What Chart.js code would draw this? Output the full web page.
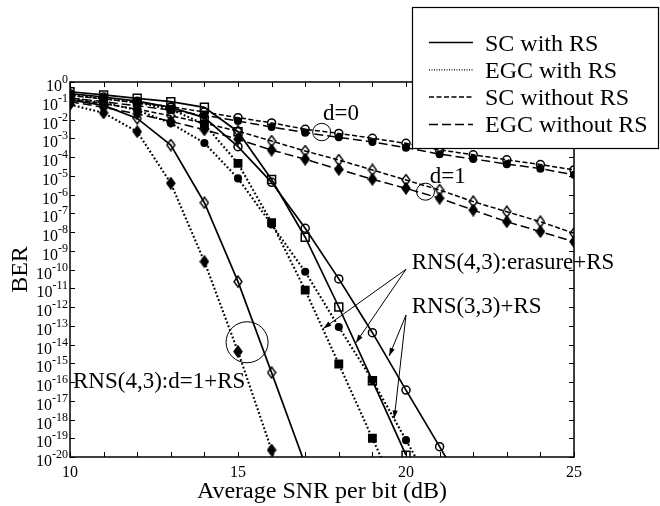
<!DOCTYPE html>
<html>
<head>
<meta charset="utf-8">
<script src="https://cdn.jsdelivr.net/npm/chart.js@4/dist/chart.umd.min.js"></script>
<style>
  html, body { margin: 0; padding: 0; background: #fff; }
  canvas { display: block; }
</style>
</head>
<body>
<canvas id="ber" width="660" height="506"></canvas>
<script>
// Average SNR per bit (dB) at which each curve is sampled
const snr = [10, 11, 12, 13, 14, 15, 16, 17, 18, 19, 20, 21, 22, 23, 24, 25];

// log10(BER) values, one per SNR point starting at 10 dB
// without RS coding, d = 0
const scNoRsD0  = [-0.72, -0.90, -1.10, -1.32, -1.60, -1.90, -2.18, -2.52, -2.74, -3.00, -3.27, -3.62, -3.88, -4.15, -4.40, -4.69];
const egcNoRsD0 = [-0.85, -1.05, -1.27, -1.50, -1.78, -2.08, -2.40, -2.70, -2.95, -3.20, -3.50, -3.85, -4.10, -4.38, -4.62, -4.95];
// without RS coding, d = 1
const scNoRsD1  = [-0.90, -1.15, -1.45, -1.80, -2.20, -2.62, -3.15, -3.68, -4.16, -4.69, -5.23, -5.76, -6.38, -6.92, -7.45, -8.07];
const egcNoRsD1 = [-1.05, -1.35, -1.70, -2.10, -2.55, -3.05, -3.63, -4.12, -4.66, -5.19, -5.67, -6.20, -6.83, -7.45, -7.98, -8.52];
// RNS(4,3): d=1 + RS
const scRns43D1  = [-0.95, -1.25, -1.94, -3.36, -6.44, -10.65, -15.50, -20.40];
const egcRns43D1 = [-1.20, -1.65, -2.65, -5.40, -9.58, -14.38, -19.63, -24.80];
// RNS(4,3): erasure + RS
const scRns43Erasure  = [-0.52, -0.69, -0.87, -1.05, -1.35, -2.65, -5.20, -8.28, -12.00, -15.93, -19.90];
const egcRns43Erasure = [-0.70, -0.88, -1.10, -1.45, -2.25, -4.34, -7.50, -11.10, -15.04, -19.00, -23.00];
// RNS(3,3) + RS
const scRns33  = [-0.62, -0.80, -1.02, -1.35, -1.90, -3.45, -5.35, -7.80, -10.50, -13.37, -16.43, -19.45, -22.50];
const egcRns33 = [-0.85, -1.10, -1.50, -2.20, -3.25, -5.14, -7.60, -10.12, -13.07, -15.90, -19.10, -22.30];

// axis ticks
const xTickValues = [10, 11, 12, 13, 14, 15, 16, 17, 18, 19, 20, 21, 22, 23, 24, 25];
const xTickLabels = [10, 15, 20, 25];
const yTickExponents = [0, -1, -2, -3, -4, -5, -6, -7, -8, -9, -10, -11, -12, -13, -14, -15, -16, -17, -18, -19, -20];

const legendLabels = ['SC with RS', 'EGC with RS', 'SC without RS', 'EGC without RS'];

const SERIF = '"Liberation Serif", "DejaVu Serif", serif';
const INK = '#000';

// line styles (SC with RS, EGC with RS, SC without RS, EGC without RS)
const lineStyles = {
  solid:  { dash: [],     width: 1.7 },
  dotted: { dash: [1.8, 2.2], width: 2.1 },
  short:  { dash: [5, 2.5], width: 1.5 },
  long:   { dash: [9, 4], width: 1.5 }
};

// tall diamond marker drawn onto a small canvas
function diamond(filled) {
  const c = document.createElement('canvas');
  c.width = 10; c.height = 13;
  const g = c.getContext('2d');
  g.beginPath();
  g.moveTo(5, 1); g.lineTo(9, 6.5); g.lineTo(5, 12); g.lineTo(1, 6.5); g.closePath();
  if (filled) { g.fillStyle = INK; g.fill(); }
  g.lineWidth = 1.4; g.strokeStyle = INK; g.stroke();
  return c;
}

const markers = {
  openCircle:    { style: 'circle', r: 4.0, fill: 'rgba(0,0,0,0)' },
  filledCircle:  { style: 'circle', r: 3.3, fill: INK },
  openSquare:    { style: 'rect',   r: 5.6, fill: 'rgba(0,0,0,0)' },
  filledSquare:  { style: 'rect',   r: 5.2, fill: INK },
  openDiamond:   { style: diamond(false), r: 5, fill: 'rgba(0,0,0,0)' },
  filledDiamond: { style: diamond(true),  r: 5, fill: INK }
};

function series(label, values, line, marker) {
  const ls = lineStyles[line];
  const m = markers[marker];
  return {
    label,
    data: values.map((v, i) => ({ x: snr[i], y: Math.pow(10, v) })),
    borderColor: INK,
    borderWidth: ls.width,
    borderDash: ls.dash,
    borderCapStyle: 'butt',
    tension: 0,
    fill: false,
    pointStyle: m.style,
    pointBackgroundColor: m.fill,
    pointBorderColor: INK,
    pointBorderWidth: 1.5,
    // samples that fall below the axis only steer the line to the border
    pointRadius: ctx => (ctx.raw && ctx.raw.y < 1e-20) ? 0 : m.r,
    pointHoverRadius: 0
  };
}

const datasets = [
  series('SC without RS, d=0',  scNoRsD0,  'short', 'openCircle'),
  series('EGC without RS, d=0', egcNoRsD0, 'long',  'filledCircle'),
  series('SC without RS, d=1',  scNoRsD1,  'short', 'openDiamond'),
  series('EGC without RS, d=1', egcNoRsD1, 'long',  'filledDiamond'),
  series('SC RNS(4,3):d=1+RS',  scRns43D1,  'solid',  'openDiamond'),
  series('EGC RNS(4,3):d=1+RS', egcRns43D1, 'dotted', 'filledDiamond'),
  series('SC RNS(4,3):erasure+RS',  scRns43Erasure,  'solid',  'openSquare'),
  series('EGC RNS(4,3):erasure+RS', egcRns43Erasure, 'dotted', 'filledSquare'),
  series('SC RNS(3,3)+RS',  scRns33,  'solid',  'openCircle'),
  series('EGC RNS(3,3)+RS', egcRns33, 'dotted', 'filledCircle')
];

// annotation anchors, in axis units (SNR dB, log10 BER)
const rings = [
  { x: 17.49, e: -2.67,  rx: 9,  ry: 8.7 },
  { x: 20.58, e: -5.85,  rx: 9,  ry: 8.5 },
  { x: 15.27, e: -13.88, rx: 21, ry: 20.5 }
];
const notes = [
  { text: 'd=0', x: 17.53, e: -2.03, size: 23 },
  { text: 'd=1', x: 20.71, e: -5.40, size: 23 },
  { text: 'RNS(4,3):d=1+RS', x: 10.09, e: -16.32, size: 23 },
  { text: 'RNS(4,3):erasure+RS', x: 20.17, e: -9.97, size: 23 },
  { text: 'RNS(3,3)+RS', x: 20.17, e: -12.34, size: 23 }
];
const arrows = [
  { from: [20.0, -9.99],  to: [17.54, -13.14] },
  { from: [20.0, -9.99],  to: [18.51, -13.90] },
  { from: [20.0, -12.43], to: [19.50, -14.61] },
  { from: [20.0, -12.43], to: [19.65, -17.94] }
];

const decorations = {
  id: 'decorations',
  afterDatasetsDraw(chart) {
    const { ctx, chartArea: a, scales: { x, y } } = chart;
    const px = v => x.getPixelForValue(v);
    const py = e => y.getPixelForValue(Math.pow(10, e));
    ctx.save();
    ctx.strokeStyle = INK;
    ctx.fillStyle = INK;
    ctx.setLineDash([]);

    // inward tick marks on all four sides
    ctx.lineWidth = 1;
    ctx.beginPath();
    xTickValues.forEach(v => {
      const X = Math.round(px(v)) + 0.5;
      ctx.moveTo(X, a.bottom); ctx.lineTo(X, a.bottom - 5);
      ctx.moveTo(X, a.top);    ctx.lineTo(X, a.top + 5);
    });
    yTickExponents.forEach(e => {
      const Y = Math.round(py(e)) + 0.5;
      ctx.moveTo(a.left, Y);  ctx.lineTo(a.left + 5, Y);
      ctx.moveTo(a.right, Y); ctx.lineTo(a.right - 5, Y);
    });
    ctx.stroke();

    // frame
    ctx.lineWidth = 1.5;
    ctx.strokeRect(a.left, a.top, a.right - a.left, a.bottom - a.top);

    // x tick labels
    ctx.font = '16px ' + SERIF;
    ctx.textAlign = 'center';
    ctx.textBaseline = 'alphabetic';
    xTickLabels.forEach(v => ctx.fillText(String(v), px(v), a.bottom + 20));

    // y tick labels: 10 with superscript exponent
    yTickExponents.forEach(e => {
      const Y = py(e);
      const sup = String(e);
      ctx.font = '12px ' + SERIF;
      ctx.textAlign = 'right';
      ctx.fillText(sup, a.left - 2, Y + 1);
      const w = ctx.measureText(sup).width;
      ctx.font = '16px ' + SERIF;
      ctx.fillText('10', a.left - 2 - w, Y + 9);
    });

    // axis titles
    ctx.font = '24px ' + SERIF;
    ctx.textAlign = 'center';
    ctx.fillText('Average SNR per bit (dB)', (a.left + a.right) / 2, 498);
    ctx.save();
    ctx.translate(27, (a.top + a.bottom) / 2);
    ctx.rotate(-Math.PI / 2);
    ctx.fillText('BER', 0, 0);
    ctx.restore();

    // rings around groups of curves
    ctx.lineWidth = 1;
    rings.forEach(r => {
      ctx.beginPath();
      ctx.ellipse(px(r.x), py(r.e), r.rx, r.ry, 0, 0, Math.PI * 2);
      ctx.stroke();
    });

    // arrows from labels to curves
    arrows.forEach(ar => {
      const x0 = px(ar.from[0]), y0 = py(ar.from[1]);
      const x1 = px(ar.to[0]),   y1 = py(ar.to[1]);
      ctx.beginPath(); ctx.moveTo(x0, y0); ctx.lineTo(x1, y1); ctx.stroke();
      const ang = Math.atan2(y1 - y0, x1 - x0);
      const L = 8, W = 2.6;
      ctx.beginPath();
      ctx.moveTo(x1, y1);
      ctx.lineTo(x1 - L * Math.cos(ang) + W * Math.sin(ang), y1 - L * Math.sin(ang) - W * Math.cos(ang));
      ctx.lineTo(x1 - L * Math.cos(ang) - W * Math.sin(ang), y1 - L * Math.sin(ang) + W * Math.cos(ang));
      ctx.closePath();
      ctx.fill();
    });

    // text labels
    ctx.textAlign = 'left';
    notes.forEach(n => {
      ctx.font = n.size + 'px ' + SERIF;
      ctx.fillText(n.text, px(n.x), py(n.e));
    });
    ctx.restore();
  },
  afterDraw(chart) {
    // legend box, overlapping the top right of the plot
    const { ctx } = chart;
    const styles = [lineStyles.solid, lineStyles.dotted, lineStyles.short, lineStyles.long];
    ctx.save();
    ctx.fillStyle = '#fff';
    ctx.fillRect(412, 7, 247, 142);
    ctx.strokeStyle = INK;
    ctx.lineWidth = 1.2;
    ctx.strokeRect(412.5, 7.5, 246, 141);
    ctx.font = '24px ' + SERIF;
    ctx.fillStyle = INK;
    ctx.textAlign = 'left';
    ctx.textBaseline = 'alphabetic';
    legendLabels.forEach((t, i) => {
      const Y = 42.5 + i * 27.3;
      const s = i === 1 ? { dash: [1, 1.5], width: 1.2 } : styles[i];
      ctx.setLineDash(s.dash);
      ctx.lineWidth = s.width;
      ctx.beginPath(); ctx.moveTo(429, Y); ctx.lineTo(473, Y); ctx.stroke();
      ctx.setLineDash([]);
      ctx.fillText(t, 485, Y + 8);
    });
    ctx.restore();
  }
};

new Chart(document.getElementById('ber'), {
  type: 'line',
  data: { datasets },
  options: {
    responsive: false,
    devicePixelRatio: 1,
    animation: false,
    layout: { padding: { left: 70, top: 82, right: 86, bottom: 49 } },
    plugins: { legend: { display: false }, tooltip: { enabled: false } },
    scales: {
      x: { type: 'linear', min: 10, max: 25, display: false },
      y: { type: 'logarithmic', min: 1e-20, max: 1, display: false }
    }
  },
  plugins: [decorations]
});
</script>
</body>
</html>
